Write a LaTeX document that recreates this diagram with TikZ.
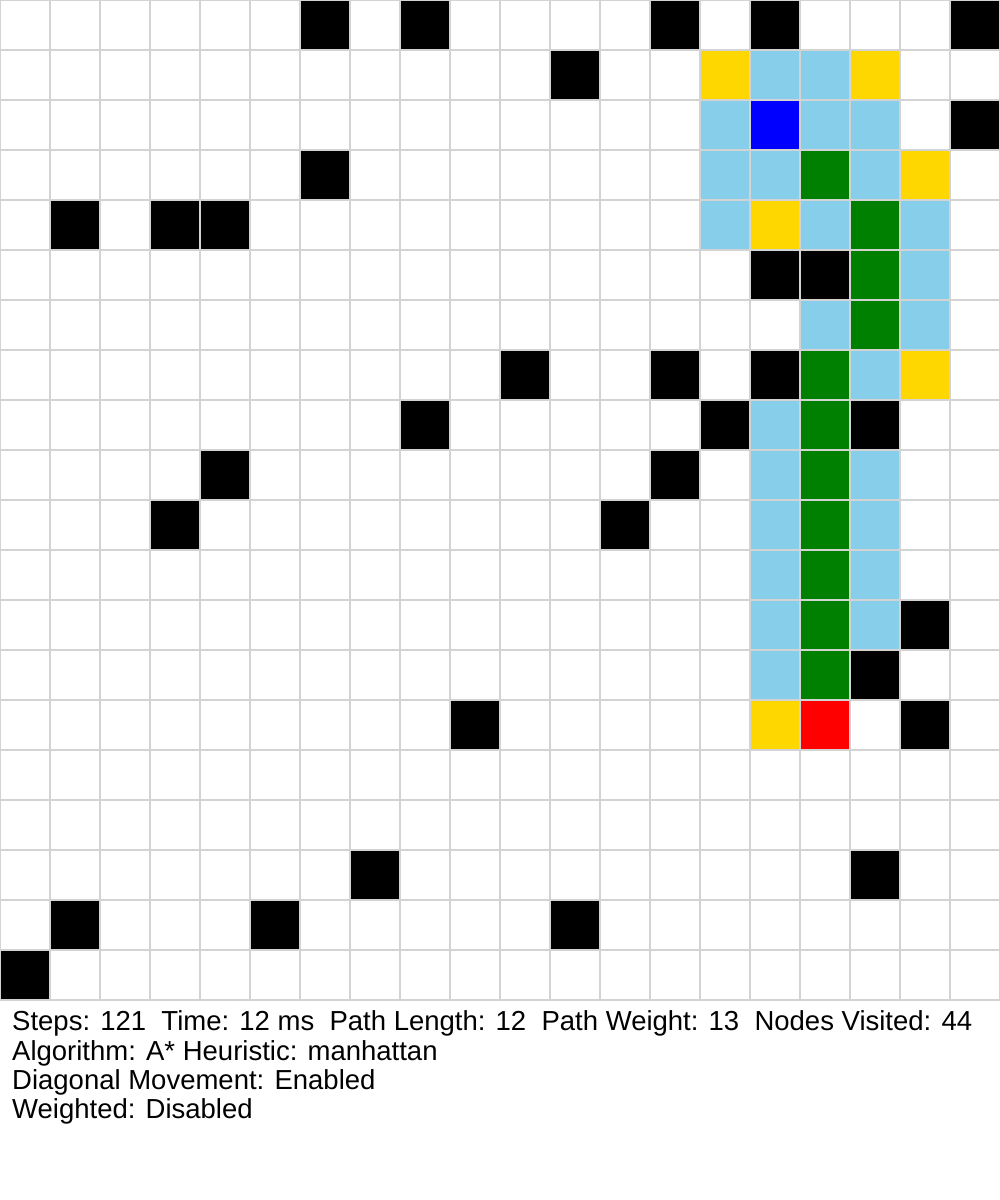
\documentclass[tikz,border=0pt]{standalone}
\usepackage{fontspec}
\setmainfont{Liberation Sans}
\definecolor{gridc}{HTML}{D3D3D3}
\definecolor{openc}{HTML}{FFD700}
\definecolor{closedc}{HTML}{87CEEB}
\definecolor{startc}{HTML}{0000FF}
\definecolor{pathc}{HTML}{008000}
\definecolor{endc}{HTML}{FF0000}
\tikzset{
  info/.style={anchor=base west, inner sep=0pt, font=\fontsize{27.5}{30}\selectfont, text=black}
}
\begin{document}
\begin{tikzpicture}[x=1pt,y=-1pt]
\useasboundingbox (0,0) rectangle (1000,1200);
\fill[white] (0,0) rectangle (1000,1200);
% walls
\foreach \c/\r in {6/0,8/0,13/0,15/0,19/0, 11/1, 19/2, 6/3, 1/4,3/4,4/4, 15/5,16/5,
  10/7,13/7,15/7, 8/8,14/8,17/8, 4/9,13/9, 3/10,12/10, 18/12, 17/13, 9/14,18/14,
  7/17,17/17, 1/18,5/18,11/18, 0/19}
  \fill[black] (\c*50,\r*50) rectangle ++(50,50);
% open set
\foreach \c/\r in {14/1,17/1,18/3,15/4,18/7,15/14}
  \fill[openc] (\c*50,\r*50) rectangle ++(50,50);
% closed set
\foreach \c/\r in {15/1,16/1, 14/2,16/2,17/2, 14/3,15/3,17/3, 14/4,16/4,18/4, 18/5,
  16/6,18/6, 17/7, 15/8, 15/9,17/9, 15/10,17/10, 15/11,17/11, 15/12,17/12, 15/13}
  \fill[closedc] (\c*50,\r*50) rectangle ++(50,50);
% path
\foreach \c/\r in {16/3,17/4,17/5,17/6,16/7,16/8,16/9,16/10,16/11,16/12,16/13}
  \fill[pathc] (\c*50,\r*50) rectangle ++(50,50);
\fill[startc] (750,100) rectangle ++(50,50);
\fill[endc] (800,700) rectangle ++(50,50);
% grid
\foreach \i in {0,...,20} {
  \draw[gridc, line width=1.5] (\i*50,0) -- (\i*50,1000);
  \draw[gridc, line width=1.5] (0,\i*50) -- (1000,\i*50);
}
\node[info] (l1) at (12,1030) {Steps: 121\ \ Time: 12 ms\ \ Path Length: 12\ \ Path Weight: 13\ \ Nodes Visited: 44};
\node[info] (l2) at (12,1060) {Algorithm: A* Heuristic: manhattan};
\node[info] (l3) at (12,1089) {Diagonal Movement: Enabled};
\node[info] (l4) at (12,1118) {Weighted: Disabled};
\end{tikzpicture}
\end{document}
